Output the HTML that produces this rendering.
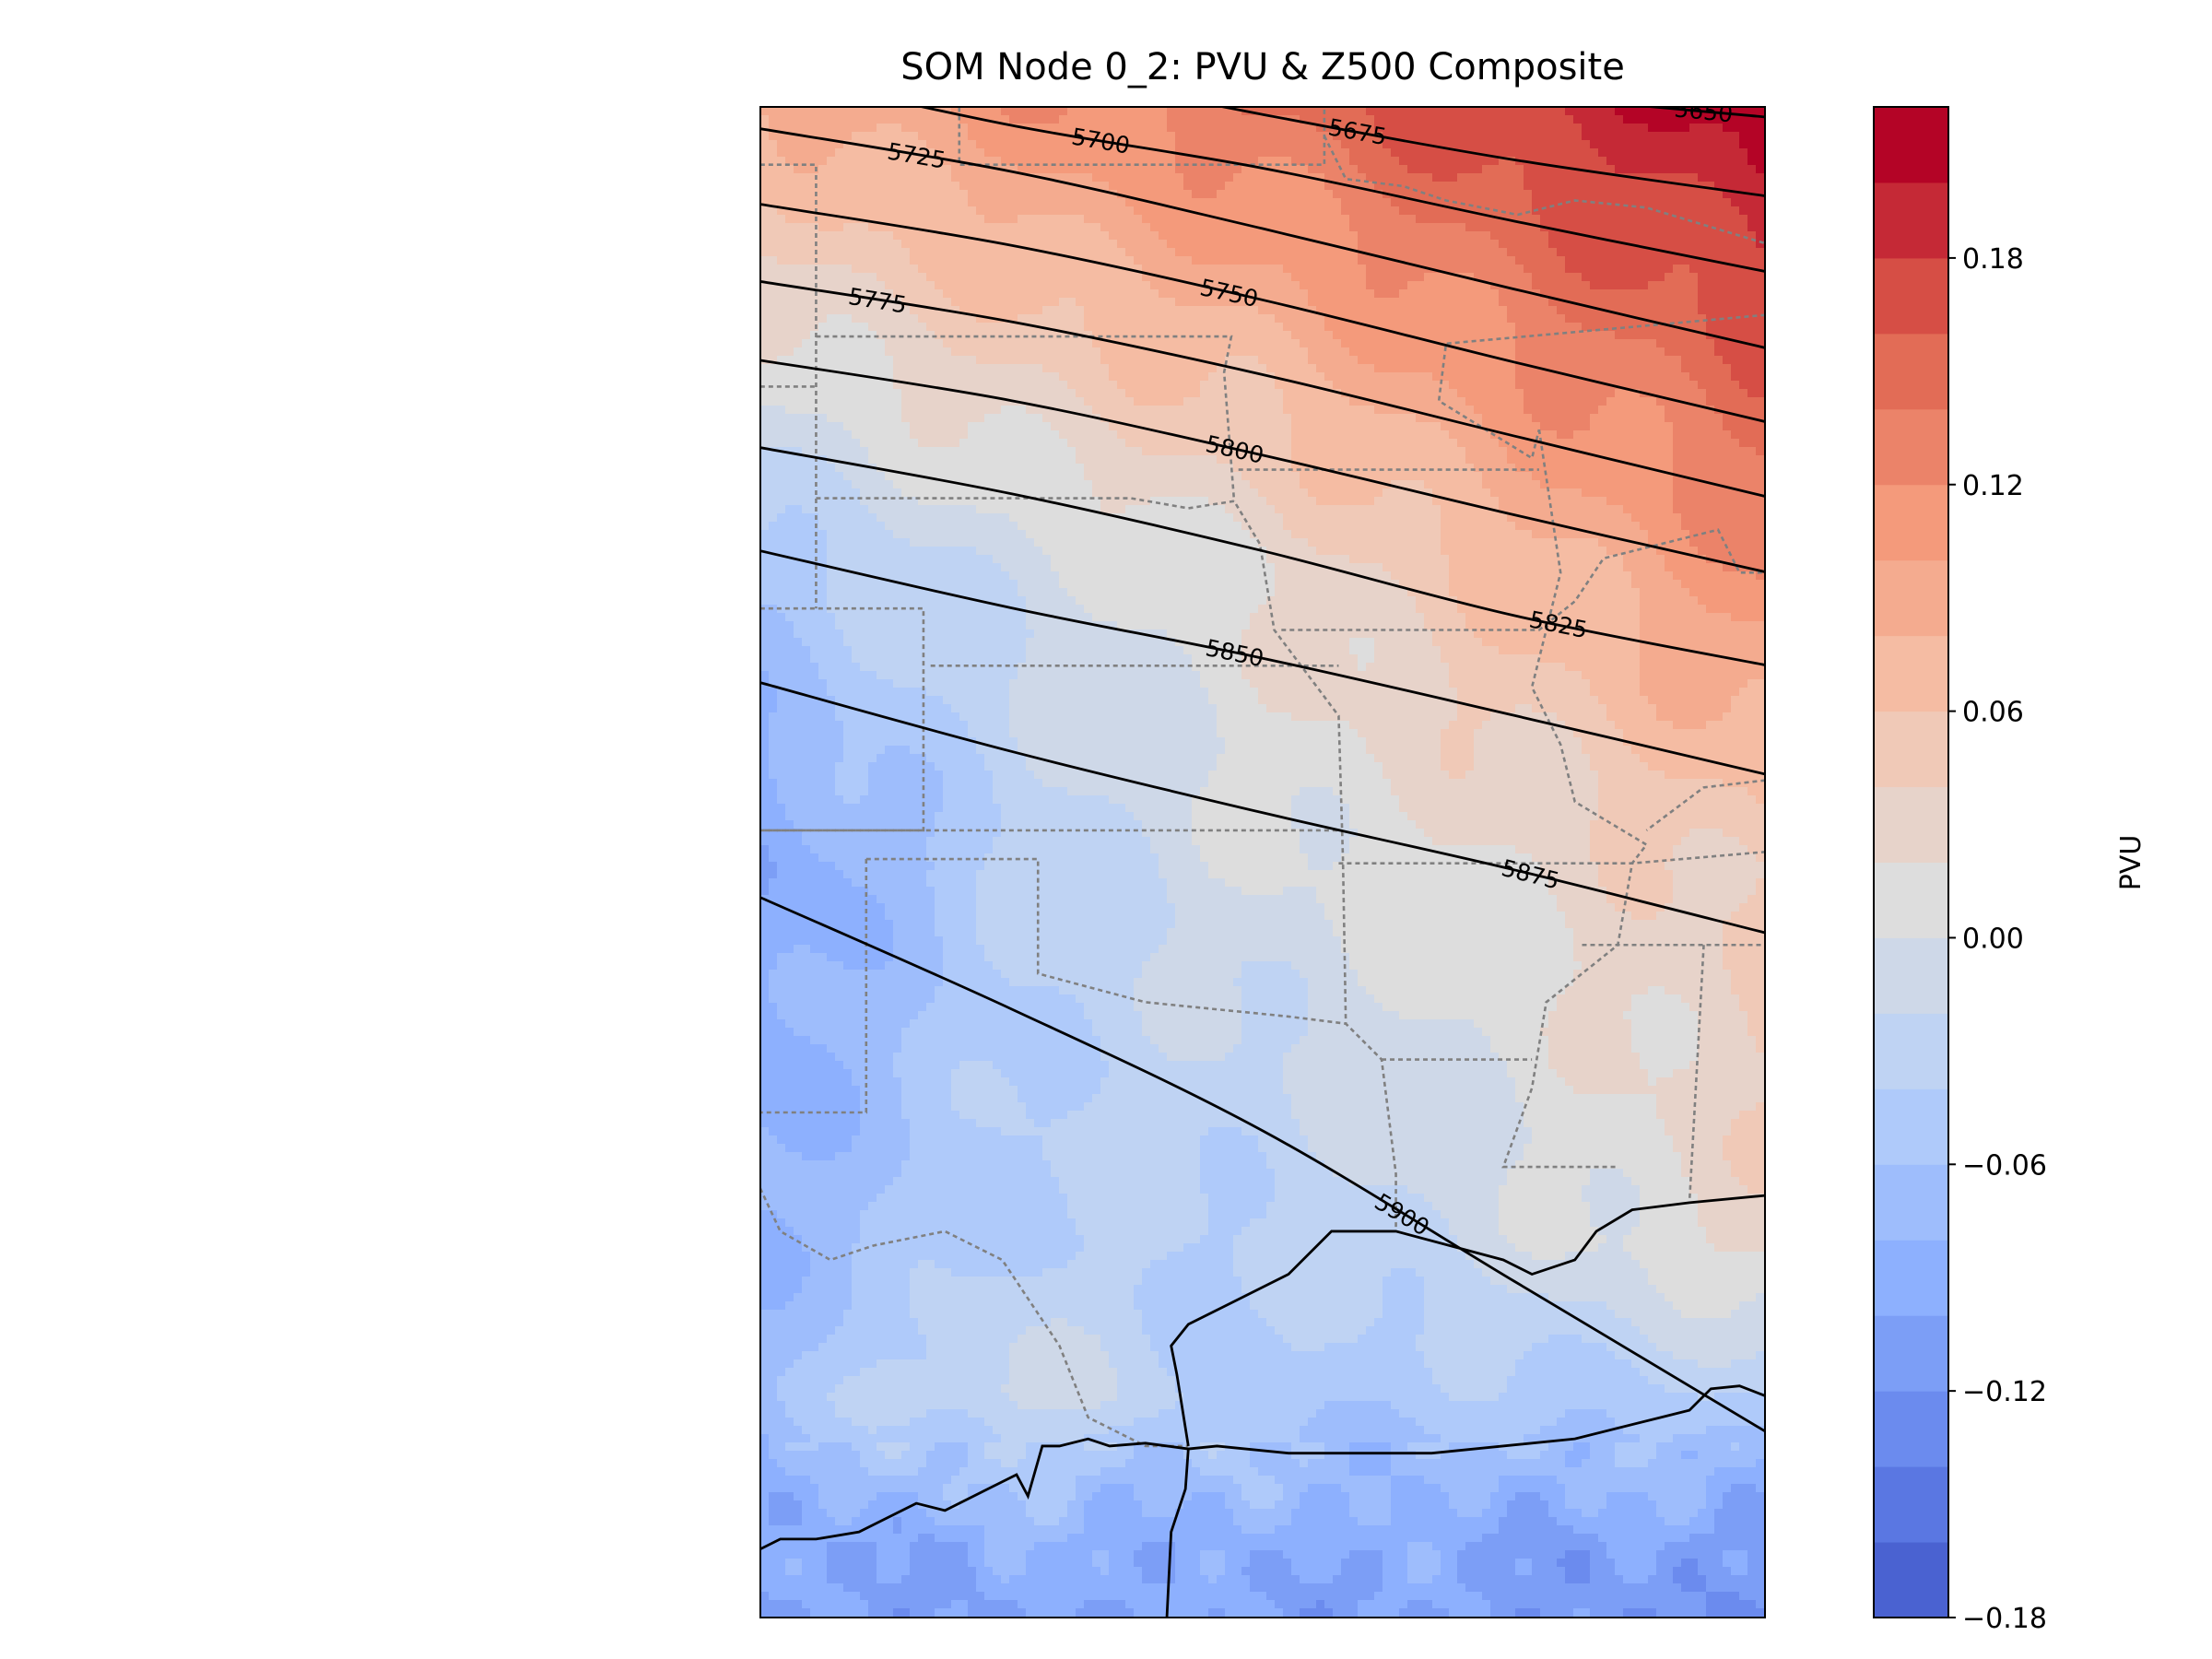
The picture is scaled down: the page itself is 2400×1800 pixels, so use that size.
<!DOCTYPE html>
<html><head><meta charset="utf-8"><style>
html,body{margin:0;padding:0;background:#fff;}
svg{display:block;font-family:"DejaVu Sans","Liberation Sans",sans-serif;}
</style></head><body>
<svg id="c" width="2400" height="1800" viewBox="0 0 2400 1800">
<text x="1370" y="86" font-size="40" text-anchor="middle">SOM Node 0_2: PVU &amp; Z500 Composite</text>
<defs><clipPath id="mc"><rect x="825" y="116" width="1090" height="1639"/></clipPath></defs>
<g id="field" clip-path="url(#mc)"></g>
<g id="borders" clip-path="url(#mc)"></g>
<g id="contours" clip-path="url(#mc)"></g>
<rect x="825" y="116" width="1090" height="1639" fill="none" stroke="#000" stroke-width="2"/>
<g id="cbar"></g>
<text transform="translate(2322,936) rotate(-90)" font-size="30" text-anchor="middle">PVU</text>
</svg>
<script>
// ---- data ----
const cbLevels=[-0.18,-0.16,-0.14,-0.12,-0.10,-0.08,-0.06,-0.04,-0.02,0.00,0.02,0.04,0.06,0.08,0.10,0.12,0.14,0.16,0.18,0.20,0.22];
const cbTicks=[-0.18,-0.12,-0.06,0.00,0.06,0.12,0.18];
const cbTickLabels=["\u22120.18","\u22120.12","\u22120.06","0.00","0.06","0.12","0.18"];
const contourLons=[-106,-101.5,-97,-92.5,-88];
const contourLevels=[5650,5675,5700,5725,5750,5775,5800,5825,5850,5875,5900];
const lat5650=[43.96,43.45,42.60,42.17,41.88];
const lat5675=[43.11,42.51,41.91,41.37,40.94];
const lat5700=[42.43,41.78,41.27,40.64,40.04];
const lat5725=[41.74,41.23,40.55,39.83,39.13];
const lat5750=[40.84,40.35,39.70,38.96,38.25];
const lat5775=[39.92,39.44,38.81,38.08,37.36];
const lat5800=[38.98,38.50,37.85,37.14,36.46];
const lat5825=[37.94,37.39,36.71,35.94,35.35];
const lat5850=[36.71,36.03,35.43,34.75,34.05];
const lat5875=[35.14,34.32,33.59,32.91,32.16];
const lat5900=[32.58,31.25,29.80,28.01,26.22];
const contourLats=[lat5650,lat5675,lat5700,lat5725,lat5750,lat5775,lat5800,lat5825,lat5850,lat5875,lat5900];
const labelLons=[-89.1,-95.3,-99.9,-103.2,-97.6,-103.9,-97.5,-91.7,-97.5,-92.2,-94.5];
// PVU anchor grid (rows: fractional map depth, cols: fractional map width)
const gridU=[0,0.25,0.5,0.75,1];
const gridV=[0,0.3,0.5,0.75,0.85,0.95,1];
const pvuRow0=[0.08,0.11,0.14,0.18,0.21];
const pvuRow1=[-0.05,-0.01,0.02,0.07,0.12];
const pvuRow2=[-0.10,-0.04,0.0,0.02,0.05];
const pvuRow3=[-0.08,-0.04,-0.04,-0.01,0.03];
const pvuRow4=[-0.06,-0.01,-0.05,-0.05,-0.04];
const pvuRow5=[-0.10,-0.09,-0.09,-0.10,-0.11];
const pvuRow6=[-0.11,-0.10,-0.10,-0.11,-0.12];
const pvuRows=[pvuRow0,pvuRow1,pvuRow2,pvuRow3,pvuRow4,pvuRow5,pvuRow6];

// ---- axes ----
const X0=825,W=1090,Y0=116,H=1639,lonMin=-106,lonMax=-88,latMin=24,latMax=42;
const xs=l=>X0+(l-lonMin)/(lonMax-lonMin)*W;
const ys=l=>Y0+(latMax-l)/(latMax-latMin)*H;
const CB0=1755,CBH=1639,cbx=2033,cbw=81;
const cby=v=>CB0-(v-cbLevels[0])/(cbLevels[cbLevels.length-1]-cbLevels[0])*CBH;
const NS='http://www.w3.org/2000/svg';
function mk(t,a,p){const e=document.createElementNS(NS,t);for(const k in a)e.setAttribute(k,a[k]);p.appendChild(e);return e;}
const anchors=[[0,[58,76,192]],[.125,[98,130,234]],[.25,[141,176,254]],[.375,[184,208,249]],[.5,[221,221,221]],[.625,[245,196,173]],[.75,[244,154,123]],[.875,[222,96,77]],[1,[180,4,38]]];
function cw(t){for(let i=1;i<anchors.length;i++){if(t<=anchors[i][0]){const[a,ca]=anchors[i-1],[b,cb]=anchors[i];const f=(t-a)/(b-a);return 'rgb('+ca.map((c,j)=>Math.round(c+(cb[j]-c)*f)).join(',')+')';}}return 'rgb(180,4,38)';}
const nb=cbLevels.length-1;
const bandColor=i=>cw(0.05+0.95*i/(nb-1));

// colorbar
const cb=document.getElementById('cbar');
for(let i=0;i<nb;i++){const r=mk('rect',{x:cbx,y:cby(cbLevels[i+1]),width:cbw,height:cby(cbLevels[i])-cby(cbLevels[i+1])+0.5,fill:bandColor(i)},cb);
}
mk('rect',{x:cbx,y:cby(cbLevels[nb]),width:cbw,height:CBH,fill:'none',stroke:'#000','stroke-width':2},cb);
cbTicks.forEach((v,i)=>{mk('line',{x1:cbx+cbw,x2:cbx+cbw+8,y1:cby(v),y2:cby(v),stroke:'#000','stroke-width':2},cb);
const t=mk('text',{x:cbx+cbw+15,y:cby(v)+11,'font-size':30},cb);t.textContent=cbTickLabels[i];
});

// field
function seg(arr,t){let i=0;while(i<arr.length-2&&t>arr[i+1])i++;return [i,(t-arr[i])/(arr[i+1]-arr[i])];}
function pvu(u,v){const[iu,fu]=seg(gridU,u),[iv,fv]=seg(gridV,v);
const a=pvuRows[iv][iu]*(1-fu)+pvuRows[iv][iu+1]*fu,b=pvuRows[iv+1][iu]*(1-fu)+pvuRows[iv+1][iu+1]*fu;return a*(1-fv)+b*fv;}
const fg=document.getElementById('field');
const cs=9;
for(let y=Y0;y<Y0+H;y+=cs){for(let x=X0;x<X0+W;x+=cs){
const u=(x-X0)/W,v=(y-Y0)/H;
let f=pvu(u,v)+0.007*Math.sin(u*31+v*13)+0.006*Math.sin(v*47-u*19)+(v>0.88?0.015*Math.sin(u*60)*Math.sin(v*80):0);
let i=Math.floor((f-cbLevels[0])/0.02);i=Math.max(0,Math.min(nb-1,i));
mk('rect',{x:x,y:y,width:cs+0.6,height:cs+0.6,fill:bandColor(i)},fg);}}

// borders
const S=2400/1545;
const bg=document.getElementById('borders');
const dotted=[
[[531,115],[570,115],[570,425]],[[531,425],[645,425],[645,580],[531,580]],[[531,270],[570,270]],
[[570,235],[860,235],[855,260],[862,350]],[[570,348],[790,348],[830,355],[862,350],[880,380],[890,440],[935,500],[938,600],[940,715],[965,740],[975,820],[975,860]],
[[650,465],[935,465]],[[531,580],[935,580]],[[605,600],[725,600],[725,680],[800,700],[850,705],[900,710],[940,715]],
[[605,600],[605,777],[531,777]],[[935,603],[1140,603],[1233,595]],[[895,440],[1075,440],[1100,420],[1120,390],[1200,370],[1215,400],[1233,400]],
[[865,328],[1075,328]],[[1075,300],[1090,400],[1070,480],[1090,520],[1100,560],[1150,590],[1140,603],[1130,660],[1080,700],[1070,760],[1050,815],[1130,815]],
[[1105,660],[1233,660]],[[1190,660],[1180,840]],[[965,740],[1070,740]],
[[531,830],[545,860],[580,880],[610,870],[660,860],[700,880],[740,940],[760,990],[800,1010],[830,1010]],
[[670,75],[670,115],[925,115],[925,75]],[[925,95],[940,125],[980,130],[1010,140],[1060,150],[1100,140],[1150,145],[1233,170]],
[[1233,220],[1010,240],[1005,280],[1070,320],[1075,300]],[[1233,545],[1190,550],[1150,580]]];
dotted.forEach(p=>{const e=mk('polyline',{points:p.map(q=>(q[0]*S)+','+(q[1]*S)).join(' '),fill:'none',stroke:'#808080','stroke-width':2.6,'stroke-dasharray':'5 4'},bg);
});
const coast=[[[531,1082],[545,1075],[570,1075],[600,1070],[640,1050],[660,1055],[690,1040],[710,1030],[718,1045],[728,1010],[740,1010],[760,1005],[775,1010],[800,1008],[830,1012],[850,1010],[900,1015],[1000,1015],[1100,1005],[1160,990],[1180,985],[1195,970],[1215,968],[1233,975]],
[[830,1012],[828,1040],[818,1070],[815,1130]],
[[830,1010],[822,960],[818,940],[830,925],[860,910],[900,890],[930,860],[975,860],[1050,880],[1070,890],[1100,880],[1115,860],[1140,845],[1180,840],[1233,835]]];
coast.forEach(p=>{const e=mk('polyline',{points:p.map(q=>(q[0]*S)+','+(q[1]*S)).join(' '),fill:'none',stroke:'#000','stroke-width':2.8},bg);
});

// contours
const cg=document.getElementById('contours');
function interp(lats,lon){for(let i=1;i<contourLons.length;i++){if(lon<=contourLons[i]){const f=(lon-contourLons[i-1])/(contourLons[i]-contourLons[i-1]);return lats[i-1]+(lats[i]-lats[i-1])*f;}}return lats[lats.length-1];}
contourLevels.forEach((lev,k)=>{
const pts=contourLons.map((lo,i)=>[xs(lo),ys(contourLats[k][i])]);
let d='M'+pts[0][0]+','+pts[0][1];
for(let i=0;i<pts.length-1;i++){const p0=pts[Math.max(0,i-1)],p1=pts[i],p2=pts[i+1],p3=pts[Math.min(pts.length-1,i+2)];
d+=' C'+(p1[0]+(p2[0]-p0[0])/6)+','+(p1[1]+(p2[1]-p0[1])/6)+' '+(p2[0]-(p3[0]-p1[0])/6)+','+(p2[1]-(p3[1]-p1[1])/6)+' '+p2[0]+','+p2[1];}
const e=mk('path',{d:d,fill:'none',stroke:'#000','stroke-width':2.8},cg);

const lx=xs(labelLons[k]),ly=ys(interp(contourLats[k],labelLons[k]));
const ly2=ys(interp(contourLats[k],labelLons[k]+0.5));
const ang=Math.atan2(ly2-ly,xs(labelLons[k]+0.5)-lx)*180/Math.PI;
const t=mk('text',{x:0,y:9,'font-size':25,'text-anchor':'middle',transform:'translate('+lx+','+ly+') rotate('+ang+')'},cg);
t.textContent=lev;

});
</script>
</body></html>
